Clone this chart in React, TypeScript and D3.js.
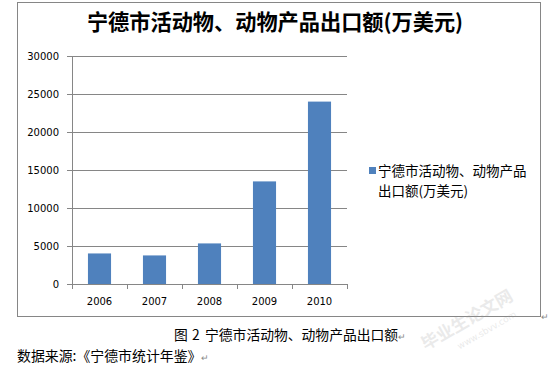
import React from "react";
import * as d3 from "d3";

const years = ["2006", "2007", "2008", "2009", "2010"];
const exportValues = [4020, 3760, 5340, 13500, 24000];
const yTicks = [0, 5000, 10000, 15000, 20000, 25000, 30000];

const TITLE = "宁德市活动物、动物产品出口额(万美元)";
const LEGEND_LINES = ["宁德市活动物、动物产品", "出口额(万美元)"];
const CAPTION = "宁德市活动物、动物产品出口额";
const SOURCE = "数据来源:《宁德市统计年鉴》";

const W = 550;
const H = 368;
const PLOT = { left: 72, right: 347, top: 56, bottom: 284 };
const CJK = "'Noto Sans CJK SC', 'Noto Sans', sans-serif";
const AXIS_FONT = "'DejaVu Sans', sans-serif";
const GRID = "#868686";
const BAR = "#4F81BD";

export default function App() {
  const x = d3
    .scaleBand<string>()
    .domain(years)
    .range([PLOT.left, PLOT.right])
    .paddingInner(0.58)
    .paddingOuter(0.29);
  const y = d3.scaleLinear().domain([0, 30000]).range([PLOT.bottom, PLOT.top]);
  const step = x.step();

  return (
    <svg
      width={W}
      height={H}
      style={{ position: "absolute", left: 0, top: 0, background: "#fff" }}
    >
      {/* chart frame */}
      <rect x={17.5} y={2.5} width={523} height={314} fill="#fff" stroke={GRID} strokeWidth={1} />

      <text x={275} y={30} textAnchor="middle" fontFamily={CJK} fontSize={21.2} fontWeight="bold" fill="#000">
        {TITLE}
      </text>

      {/* gridlines + y axis */}
      {yTicks.map((t) => (
        <g key={t}>
          {t > 0 && (
            <line x1={PLOT.left} x2={PLOT.right} y1={Math.round(y(t)) + 0.5} y2={Math.round(y(t)) + 0.5} stroke={GRID} />
          )}
          <line x1={PLOT.left - 5} x2={PLOT.left} y1={Math.round(y(t)) + 0.5} y2={Math.round(y(t)) + 0.5} stroke={GRID} />
          <text x={59} y={y(t)} dy="0.35em" textAnchor="end" fontFamily={AXIS_FONT} fontSize={10} fill="#000">
            {t}
          </text>
        </g>
      ))}
      <line x1={PLOT.left + 0.5} x2={PLOT.left + 0.5} y1={PLOT.top} y2={PLOT.bottom + 5} stroke={GRID} />

      {/* bars */}
      {years.map((yr, i) => (
        <rect
          key={yr}
          x={x(yr)}
          y={y(exportValues[i])}
          width={x.bandwidth()}
          height={PLOT.bottom - y(exportValues[i])}
          fill={BAR}
        />
      ))}

      {/* x axis */}
      <line x1={PLOT.left} x2={PLOT.right} y1={PLOT.bottom + 0.5} y2={PLOT.bottom + 0.5} stroke={GRID} />
      {years.map((yr, i) => (
        <line
          key={"t" + yr}
          x1={Math.round(PLOT.left + (i + 1) * step) + 0.5}
          x2={Math.round(PLOT.left + (i + 1) * step) + 0.5}
          y1={PLOT.bottom}
          y2={PLOT.bottom + 5}
          stroke={GRID}
        />
      ))}
      {years.map((yr) => (
        <text
          key={"l" + yr}
          x={(x(yr) || 0) + x.bandwidth() / 2}
          y={301}
          dy="0.35em"
          textAnchor="middle"
          fontFamily={AXIS_FONT}
          fontSize={10}
          fill="#000"
        >
          {yr}
        </text>
      ))}

      {/* legend */}
      <rect x={369} y={167} width={7} height={7} fill={BAR} />
      {LEGEND_LINES.map((s, i) => (
        <text key={s} x={378} y={176 + i * 20} fontFamily={CJK} fontSize={13.5} fill="#000">
          {s}
        </text>
      ))}

      {/* document text below chart */}
      <text x={541} y={320} fontFamily={CJK} fontSize={9} fill="#888">↵</text>
      <text y={340} fontFamily={CJK} fontSize={13.8} fill="#000">
        <tspan x={174}>图</tspan>
        <tspan x={192}>2</tspan>
        <tspan x={205}>{CAPTION}</tspan>
        <tspan fontSize={9} fill="#888">↵</tspan>
      </text>
      <text x={17} y={361} fontFamily={CJK} fontSize={13.9} fill="#000">
        {SOURCE}
        <tspan fontSize={9} fill="#888">↵</tspan>
      </text>

      {/* faint watermark */}
      <g transform="translate(470,325) rotate(-30)" opacity={0.2}>
        <text x={0} y={0} textAnchor="middle" fontFamily={CJK} fontSize={17} fontWeight="bold" fill="#999">
          毕业生论文网
        </text>
        <text x={12} y={16} textAnchor="middle" fontFamily={AXIS_FONT} fontSize={9} fill="#999">
          www.sbvv.com
        </text>
      </g>
    </svg>
  );
}
